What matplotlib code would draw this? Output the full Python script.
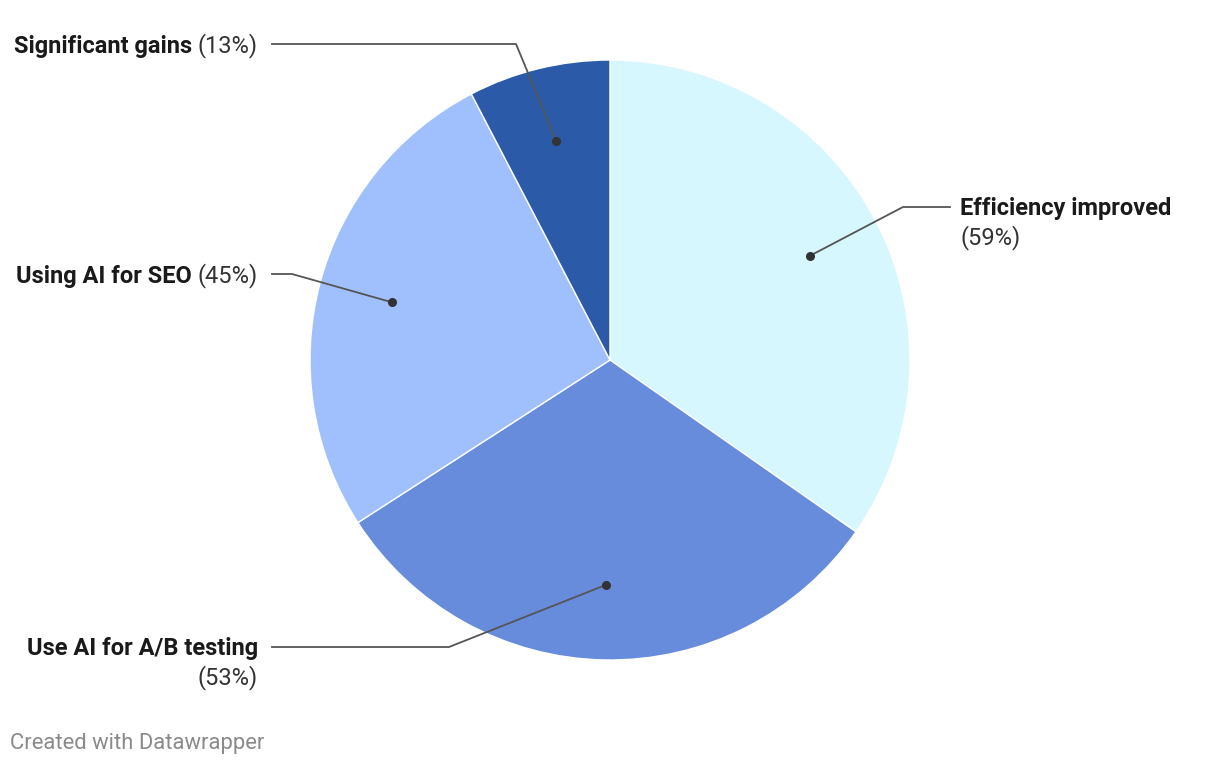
import numpy as np
import matplotlib.pyplot as plt

# data
labels = ['Efficiency improved', 'Use AI for A/B testing', 'Using AI for SEO', 'Significant gains']
values = [59, 53, 45, 13]
colors = ['#d7f7fe', '#678cdc', '#a0c0fd', '#2a5aa8']

plt.rcParams['font.family'] = ['Roboto', 'DejaVu Sans']

W, H = 1220, 766
fig = plt.figure(figsize=(W / 100, H / 100), dpi=100)
ax = fig.add_axes([0, 0, 1, 1])

cx, cy, R = 610, H - 360, 300
wedges, _ = ax.pie(values, colors=colors, startangle=90, counterclock=False,
                   center=(cx, cy), radius=R, frame=True,
                   wedgeprops=dict(edgecolor='white', linewidth=1))
ax.set_xlim(0, W)
ax.set_ylim(0, H)
ax.set_aspect('equal')
ax.axis('off')

# label layout: (elbow x, elbow y, line end x, text x, text y, side, two lines)
layout = {
    'Efficiency improved': (903, 207, 950, 960, 209, 'left', True),
    'Use AI for A/B testing': (449, 647, 272, 258, 649, 'right', True),
    'Using AI for SEO': (292, 274, 272, 258, 276, 'right', False),
    'Significant gains': (516, 44, 272, 258, 46, 'right', False),
}

fs = 17
fig.canvas.draw()
renderer = fig.canvas.get_renderer()

for w, lab, val in zip(wedges, labels, values):
    mid = np.deg2rad((w.theta1 + w.theta2) / 2)
    dx = cx + 0.75 * R * np.cos(mid)
    dy = cy + 0.75 * R * np.sin(mid)
    ex, ey, lx, tx, ty, side, two = layout[lab]
    ey, ty = H - ey, H - ty
    ax.plot([dx, ex, lx], [dy, ey, ey], color='#555555', lw=1.3, zorder=5)
    ax.plot(dx, dy, 'o', color='#333333', ms=5.5, zorder=6)
    pct = '(%d%%)' % val
    if two:
        ax.text(tx, ty, lab, ha=side, va='center', fontsize=fs,
                fontweight='bold', color='#1a1a1a')
        ax.text(tx, ty - 29, pct, ha=side, va='center', fontsize=fs,
                color='#333333')
    else:
        t = ax.text(tx, ty, pct, ha='right', va='center', fontsize=fs,
                    color='#333333')
        bb = t.get_window_extent(renderer)
        ax.text(bb.x0 - 6, ty, lab, ha='right', va='center', fontsize=fs,
                fontweight='bold', color='#1a1a1a')

ax.text(10, H - 743, 'Created with Datawrapper', ha='left', va='center',
        fontsize=15.8, color='#8a8a8a')

fig.savefig('out.png', dpi=100, facecolor='white')
